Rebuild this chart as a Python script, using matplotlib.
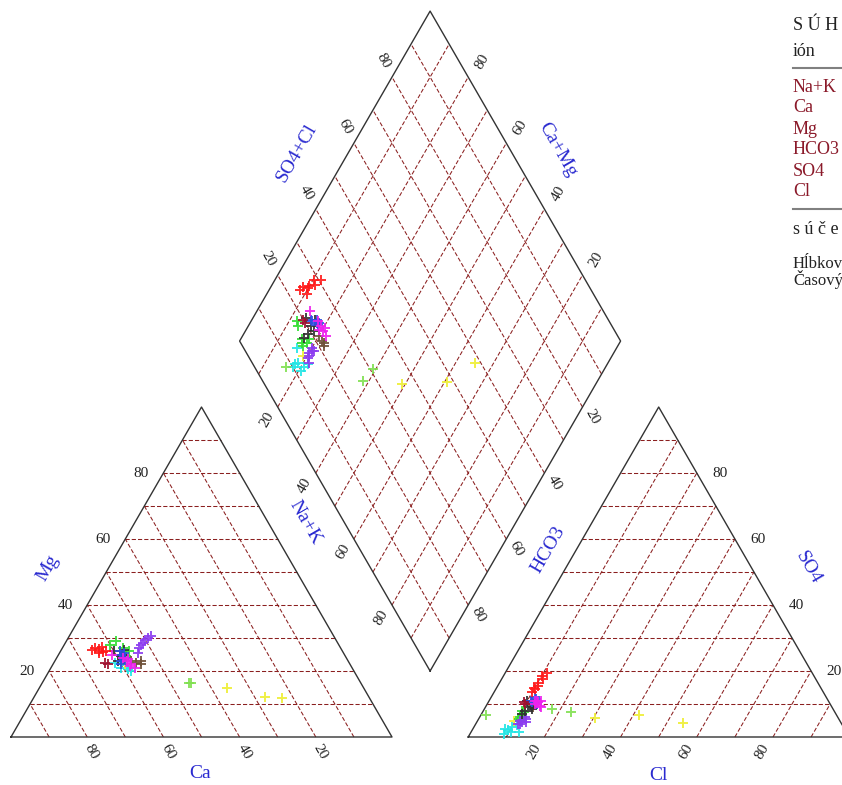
import matplotlib
matplotlib.use("Agg")
import matplotlib.pyplot as plt
import numpy as np

plt.rcParams['font.family'] = ['Liberation Serif', 'DejaVu Serif']

# ---- ion percentages (meq %) for each sampling series ----
series_colors = {
    "cyan": "#22e5e5", "lightgreen": "#80e050", "yellow": "#eeee33",
    "green": "#33dd33", "purple": "#8c3cf0", "brown": "#6e5038",
    "black": "#303030", "blue": "#2f4fe0", "magenta": "#ee22ee",
    "crimson": "#a0102e", "red": "#ff1a1a",
}
ca_pct = {
    "red": [65.5, 64.5, 64, 63.5, 63, 62.5, 62, 64],
    "green": [60, 58, 57, 58.5, 56, 59.5, 57.5],
    "blue": [59, 58, 59.5, 57.5, 60, 58.5],
    "black": [60, 59, 58, 60.5, 57, 58.5],
    "magenta": [58, 57.5, 58.5, 57, 58, 57.5, 61],
    "cyan": [60, 59, 58, 60.5, 59, 58.5, 61.5],
    "purple": [54, 53, 52, 51, 50, 49, 48],
    "brown": [57, 56, 55, 54.5],
    "crimson": [64, 63.5],
    "yellow": [35.9, 27.3, 23.0, 59],
    "lightgreen": [45, 44.5, 59],
}
mg_pct = {
    "red": [26.5, 27, 26, 26.8, 25.8, 27.2, 26, 25.6],
    "green": [28, 29, 27, 25, 26, 23, 24.5],
    "blue": [25, 24, 23, 25.5, 22, 26],
    "black": [26, 24.5, 25, 23, 26.5, 23.5],
    "magenta": [23, 22, 24, 21, 21.5, 23.5, 25],
    "cyan": [22, 20.5, 21, 21, 23, 20, 22.5],
    "purple": [25.5, 27, 28, 28.5, 29.5, 30, 30.5],
    "brown": [23, 22.5, 22, 23],
    "crimson": [22.5, 22],
    "yellow": [14.9, 12.1, 11.8, 22],
    "lightgreen": [16.5, 16.3, 25],
}
cl_pct = {
    "red": [10, 10.3, 10.5, 10, 10.8, 10.2, 11, 9.8],
    "green": [10, 10.5, 10.5, 11, 11, 10.5, 11],
    "blue": [11, 11.5, 12.5, 12, 13, 11.5],
    "black": [10, 12, 11, 13, 10.5, 12.5],
    "magenta": [12.5, 13.5, 14, 13, 14.5, 12.5, 12],
    "cyan": [9, 9.5, 10, 10.5, 8.5, 11, 12.5],
    "purple": [11, 12, 12.5, 11.5, 13, 12, 11],
    "brown": [12, 12.5, 11.5, 12],
    "crimson": [9.5, 10],
    "yellow": [30.4, 41.5, 54.3, 9.5],
    "lightgreen": [17.8, 23.2, 1.4],
}
so4_pct = {
    "red": [13.5, 14.5, 15.5, 16.5, 17.5, 18.5, 19.5, 15],
    "green": [8, 7, 6, 5, 6.5, 5.5, 7.5],
    "blue": [11, 12, 10.5, 11.5, 10, 10.5],
    "black": [11, 9, 8, 10, 7, 8.5],
    "magenta": [10, 11, 9.5, 10.5, 9, 11, 11],
    "cyan": [1, 2, 3, 1.5, 2.5, 3.5, 1.5],
    "purple": [5, 4.5, 5.5, 4, 4.5, 6, 4],
    "brown": [9.5, 9, 10, 10],
    "crimson": [10.5, 10],
    "yellow": [5.8, 6.7, 4.2, 5],
    "lightgreen": [8.5, 7.6, 6.7],
}

tick_values = [20, 40, 60, 80]
legend_ions = ["Na+K", "Ca", "Mg", "HCO3", "SO4", "Cl"]

# ---- geometry ----
H = np.sqrt(3) / 2
GAP = 20.0
SCALE = 3.81          # pixels per percent unit
PX = 1.0 / SCALE      # one pixel in data units
BX, BY = 100 + GAP / 2, H * GAP   # bottom vertex of the diamond


def cation_xy(ca, mg):
    ca, mg = np.asarray(ca, float), np.asarray(mg, float)
    nak = 100 - ca - mg
    return nak + 0.5 * mg, H * mg


def anion_xy(cl, so4):
    cl, so4 = np.asarray(cl, float), np.asarray(so4, float)
    return 100 + GAP + cl + 0.5 * so4, H * so4


def diamond_xy(camg, sc):
    camg, sc = np.asarray(camg, float), np.asarray(sc, float)
    return BX + 0.5 * (sc - camg), BY + H * (sc + camg)


W, Hpx = 842, 785
fig = plt.figure(figsize=(W / 100, Hpx / 100), dpi=100)
ax = fig.add_axes([0, 0, 1, 1])
ax.set_xlim(-11 * PX, (W - 11) * PX)
ax.set_ylim((737 - Hpx) * PX, 737 * PX)
ax.axis('off')

grid_kw = dict(color='#8b1f1f', lw=0.75, ls=(0, (4, 2)), zorder=1)
edge_kw = dict(color='#333333', lw=1.0, zorder=2)

levels = np.arange(10, 100, 10)

# cation triangle grid: Mg horizontals and Ca lines
for m in levels:
    x0, y0 = cation_xy(100 - m, m)
    x1, y1 = cation_xy(0, m)
    ax.plot([x0, x1], [y0, y1], **grid_kw)
for c in levels:
    x0, y0 = cation_xy(c, 0)
    x1, y1 = cation_xy(c, 100 - c)
    ax.plot([x0, x1], [y0, y1], **grid_kw)

# anion triangle grid: SO4 horizontals and Cl lines
for s in levels:
    x0, y0 = anion_xy(0, s)
    x1, y1 = anion_xy(100 - s, s)
    ax.plot([x0, x1], [y0, y1], **grid_kw)
for c in levels:
    x0, y0 = anion_xy(c, 0)
    x1, y1 = anion_xy(c, 100 - c)
    ax.plot([x0, x1], [y0, y1], **grid_kw)

# diamond grid
for v in levels:
    x0, y0 = diamond_xy(0, v)
    x1, y1 = diamond_xy(100, v)
    ax.plot([x0, x1], [y0, y1], **grid_kw)
    x0, y0 = diamond_xy(v, 0)
    x1, y1 = diamond_xy(v, 100)
    ax.plot([x0, x1], [y0, y1], **grid_kw)

# outlines
cx, cy = cation_xy([100, 0, 0, 100], [0, 0, 100, 0])
ax.plot(cx, cy, **edge_kw)
axx, axy = anion_xy([0, 100, 0, 0], [0, 0, 100, 0])
ax.plot(axx, axy, **edge_kw)
dx, dy = diamond_xy([0, 100, 100, 0, 0], [0, 0, 100, 100, 0])
ax.plot(dx, dy, **edge_kw)

# samples
mk = dict(marker='+', ls='none', ms=7, mew=1.4, zorder=5, alpha=0.9)
for name, col in series_colors.items():
    ca, mg = np.array(ca_pct[name]), np.array(mg_pct[name])
    cl, so4 = np.array(cl_pct[name]), np.array(so4_pct[name])
    x, y = cation_xy(ca, mg)
    ax.plot(x, y, color=col, **mk)
    x, y = anion_xy(cl, so4)
    ax.plot(x, y, color=col, **mk)
    x, y = diamond_xy(ca + mg, cl + so4)
    ax.plot(x, y, color=col, **mk)

# tick labels
tk = dict(fontsize=11, color='#222222', ha='center', va='center',
          rotation_mode='anchor', zorder=6)


def put(x, y, dxp, dyp, s, rot=0, **kw):
    ax.text(x + dxp * PX, y - dyp * PX, s, rotation=rot, **kw)


for t in tick_values:
    x, y = cation_xy(100 - t, t)          # Mg on left edge
    put(x, y, -22, 0, str(t), **tk)
    x, y = cation_xy(t, 0)                # Ca on base
    put(x, y, 4.5, 15, str(t), rot=-60, **tk)
    x, y = anion_xy(100 - t, t)           # SO4 on right edge
    put(x, y, 23, 0, str(t), **tk)
    x, y = anion_xy(t, 0)                 # Cl on base
    put(x, y, -10.5, 15, str(t), rot=60, **tk)
    x, y = diamond_xy(100, t)             # SO4+Cl upper-left
    put(x, y, -9, -16, str(t), rot=-60, **tk)
    x, y = diamond_xy(t, 100)             # Ca+Mg upper-right
    put(x, y, 14, -15.5, str(t), rot=60, **tk)
    x, y = diamond_xy(100 - t, 0)         # Na+K lower-left
    put(x, y, -11, 12.5, str(t), rot=60, **tk)
    x, y = diamond_xy(0, 100 - t)         # HCO3 lower-right
    put(x, y, 10, 10, str(t), rot=-60, **tk)

# axis titles
title_kw = dict(fontsize=14, color='#2a2ad0', ha='center', va='center',
                rotation_mode='anchor', zorder=6)


def put_px(px, py, s, rot=0, **kw):
    ax.text((px - 11) * PX, (737 - py) * PX, s, rotation=rot, **kw)


put_px(48, 568, "Mg", 60, **title_kw)
put_px(200, 773, "Ca", 0, **title_kw)
put_px(658, 775, "Cl", 0, **title_kw)
put_px(808, 568, "SO4", -60, **title_kw)
put_px(548, 550, "HCO3", 60, **title_kw)
put_px(305, 522, "Na+K", -60, **title_kw)
put_px(297, 153, "SO4+Cl", 60, **title_kw)
put_px(558, 150, "Ca+Mg", -60, **title_kw)

# summary table at the top right
def ftext(px, py, s, **kw):
    fig.text(px / W, 1 - py / Hpx, s, ha='left', va='center', **kw)


ftext(793, 25, "S Ú H R N", fontsize=13, color='#222222')
ftext(793, 52, "ión", fontsize=13, color='#222222')
for i, ion in enumerate(legend_ions):
    ftext(793, 87 + i * 21, ion, fontsize=13, color='#8b1a2a')
ftext(793, 230, "s ú č e t", fontsize=13, color='#222222')
ftext(793, 263, "Hĺbkový", fontsize=12, color='#222222')
ftext(793, 280, "Časový", fontsize=12, color='#222222')
for ly in (68, 209):
    fig.add_artist(plt.Line2D([793 / W, 1.0], [1 - ly / Hpx] * 2,
                              color='#808080', lw=1.5))

fig.savefig("out.png", dpi=100, facecolor='white')
